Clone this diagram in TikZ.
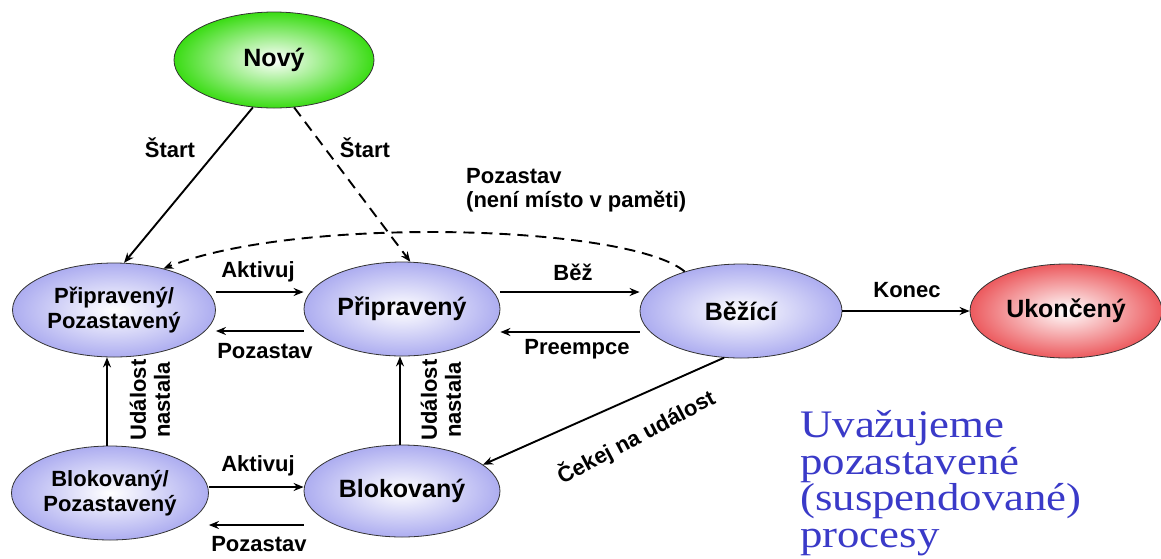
\documentclass[tikz,border=0pt]{standalone}
\usepackage{fontspec}
\setmainfont{Liberation Sans}
\newfontfamily\serifblue{Liberation Serif}[FakeStretch=1.15]
\usetikzlibrary{shapes.geometric,arrows.meta,calc}
\definecolor{lav}{HTML}{ADADF0}
\definecolor{grn}{HTML}{3ADC14}
\definecolor{rd}{HTML}{EC5A5E}
\definecolor{bluetxt}{HTML}{3A3AC8}
\tikzset{
  state/.style={ellipse, draw=black!80, line width=0.8pt, inner sep=0pt,
    minimum width=200pt, minimum height=94pt, align=center,
    font=\fontsize{25}{27}\selectfont\bfseries, inner color=white, outer color=lav},
  twoline/.style={font=\fontsize{22}{25}\selectfont\bfseries},
  lbl/.style={font=\fontsize{22}{24}\selectfont\bfseries, inner sep=1pt},
  arr/.style={line width=1.9pt, -{Stealth[length=10pt,width=8pt]}},
  dsh/.style={dash pattern=on 11pt off 7pt},
}
\begin{document}
\begin{tikzpicture}[x=1pt,y=-1pt]
\useasboundingbox (0,0) rectangle (1161,558);
% states
\node[state, minimum width=200pt, minimum height=96pt, outer color=grn] (novy) at (274,60) {Nový};
\node[state, twoline, minimum width=203pt] (pp) at (114,310) {Připravený/\\Pozastavený};
\node[state, minimum width=196pt] (prip) at (402,309) {Připravený};
\node[state, minimum width=202pt] (bezi) at (741,311) {Běžící};
\node[state, minimum width=192pt, outer color=rd] (konec) at (1066,311) {Ukončený};
\node[state, twoline, minimum width=197pt] (bp) at (110,493) {Blokovaný/\\Pozastavený};
\node[state, minimum width=196pt, minimum height=92pt] (blok) at (402,491) {Blokovaný};
% start arrows
\draw[arr] (novy.{246}) -- (pp.{78});
\draw[arr, dsh] (novy.{293}) -- (prip.{80});
\node[lbl] (st1) at (170,148) {Štart};
\node[lbl] (st2) at (365,148) {Štart};
% dashed suspend from running
\draw[arr, dsh] (bezi.{145}) .. controls (630,225) and (300,215) .. (pp.{40});
\node[lbl, align=left, anchor=west] (pz) at (465,190) {Pozastav\\(není místo v paměti)};
% horizontal arrows top row
\draw[arr] ($(pp.east)+(0,-18)$) coordinate (a1) -- (a1 -| prip.west);
\node[lbl] (akt1) at (258,272) {Aktivuj};
\draw[arr] ($(prip.west)+(0,22)$) coordinate (a2) -- (a2 -| pp.east);
\node[lbl] (poz1) at (265,351) {Pozastav};
\draw[arr] ($(prip.east)+(0,-17)$) coordinate (a3) -- (a3 -| bezi.west);
\node[lbl] (bez) at (573,272) {Běž};
\draw[arr] ($(bezi.west)+(0,21)$) coordinate (a4) -- (a4 -| prip.east);
\node[lbl] (pre) at (577,349) {Preempce};
\draw[arr] (bezi.east) -- (konec.west);
\node[lbl] (kon) at (907,290) {Konec};
% vertical arrows
\draw[arr] (bp.north -| 107,0) coordinate (v1) -- (v1 |- pp.south);
\node[lbl, rotate=90, align=center] (ud1) at (150,400) {Událost\\nastala};
\draw[arr] (blok.north -| 400,0) coordinate (v2) -- (v2 |- prip.south);
\node[lbl, rotate=90, align=center] (ud2) at (441,400) {Událost\\nastala};
% bottom row
\draw[arr] ($(bp.east)+(0,-6)$) coordinate (a5) -- (a5 -| blok.west);
\node[lbl] (akt2) at (258,466) {Aktivuj};
\draw[arr] ($(blok.west)+(0,34)$) coordinate (a6) -- (a6 -| bp.east);
\node[lbl] (poz2) at (259,544) {Pozastav};
% wait for event
\draw[arr] (bezi.{250}) -- (blok.{18});
\node[lbl, rotate=28] (cek) at (636,437) {Čekej na událost};
% blue text
\node[anchor=north west, align=left, inner sep=0pt, text=bluetxt,
  font=\serifblue\fontsize{39}{36.7}\selectfont] (note) at (800,410)
  {Uvažujeme\\pozastavené\\(suspendované)\\procesy};
\end{tikzpicture}
\end{document}
